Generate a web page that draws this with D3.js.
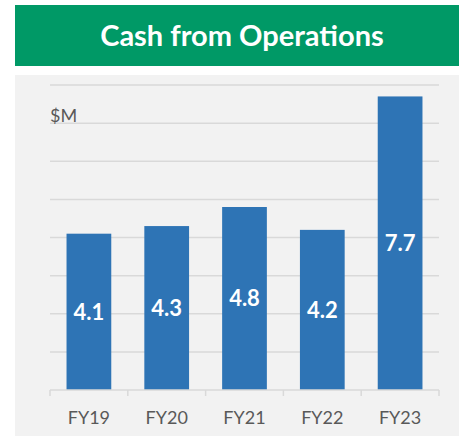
<!DOCTYPE html>
<html>
<head>
<meta charset="utf-8">
<script src="https://cdn.jsdelivr.net/npm/d3@7"></script>
<style>
  body { margin: 0; background: #fff; }
  svg { display: block; }
</style>
</head>
<body>
<svg id="chart" width="459" height="436"></svg>
<script>
const title = "Cash from Operations";
const unitLabel = "$M";
const years = ["FY19", "FY20", "FY21", "FY22", "FY23"];
const cash = [4.1, 4.3, 4.8, 4.2, 7.7];
const gridValues = [1, 2, 3, 4, 5, 6, 7, 8];

const svg = d3.select("#chart");

// green title banner
svg.append("rect")
  .attr("x", 15).attr("y", 5)
  .attr("width", 444).attr("height", 61)
  .attr("fill", "#009966");

svg.append("text")
  .attr("x", 242).attr("y", 46)
  .attr("text-anchor", "middle")
  .attr("font-family", "Lato, 'Open Sans', sans-serif")
  .attr("font-weight", "bold")
  .attr("font-size", 29)
  .attr("fill", "#fff")
  .text(title);

// grey plot panel
svg.append("rect")
  .attr("x", 15).attr("y", 75)
  .attr("width", 444).attr("height", 361)
  .attr("fill", "#f2f2f2");

const x = d3.scaleBand()
  .domain(years)
  .range([50, 439])
  .paddingInner(0.425)
  .paddingOuter(0.2125);

const y = d3.scaleLinear()
  .domain([0, 8])
  .range([390, 85]);

// gridlines
svg.append("g")
  .selectAll("line")
  .data(gridValues)
  .enter()
  .append("line")
  .attr("x1", 50).attr("x2", 439)
  .attr("y1", (d) => y(d)).attr("y2", (d) => y(d))
  .attr("stroke", "#d9d9d9")
  .attr("stroke-width", 1.5);

svg.append("text")
  .attr("x", 50).attr("y", 122)
  .attr("font-family", "Lato, 'Open Sans', sans-serif")
  .attr("font-size", 18)
  .attr("fill", "#595959")
  .text(unitLabel);

// bars
svg.append("g")
  .selectAll("rect")
  .data(cash)
  .enter()
  .append("rect")
  .attr("x", (d, i) => x(years[i]))
  .attr("y", (d) => y(d))
  .attr("width", x.bandwidth())
  .attr("height", (d) => y(0) - y(d))
  .attr("fill", "#2e74b5");

// value labels, centred in each bar
svg.append("g")
  .selectAll("text")
  .data(cash)
  .enter()
  .append("text")
  .attr("x", (d, i) => x(years[i]) + x.bandwidth() / 2)
  .attr("y", (d) => y(d / 2))
  .attr("dy", "0.36em")
  .attr("text-anchor", "middle")
  .attr("font-family", "Lato, 'Open Sans', sans-serif")
  .attr("font-weight", "bold")
  .attr("font-size", 22)
  .attr("fill", "#fff")
  .text((d) => d.toFixed(1));

// x axis with ticks between categories
const xAxis = svg.append("g")
  .attr("transform", "translate(0,390)");

xAxis.append("line")
  .attr("x1", 50).attr("x2", 439)
  .attr("stroke", "#d9d9d9")
  .attr("stroke-width", 1.5);

const step = x.step();
xAxis.selectAll(".tick")
  .data(d3.range(years.length + 1))
  .enter()
  .append("line")
  .attr("x1", (i) => 50 + i * step)
  .attr("x2", (i) => 50 + i * step)
  .attr("y1", 0).attr("y2", 6)
  .attr("stroke", "#d9d9d9")
  .attr("stroke-width", 1.5);

xAxis.selectAll("text")
  .data(years)
  .enter()
  .append("text")
  .attr("x", (d) => x(d) + x.bandwidth() / 2)
  .attr("y", 34)
  .attr("text-anchor", "middle")
  .attr("font-family", "Lato, 'Open Sans', sans-serif")
  .attr("font-size", 18)
  .attr("fill", "#595959")
  .text((d) => d);
</script>
</body>
</html>
